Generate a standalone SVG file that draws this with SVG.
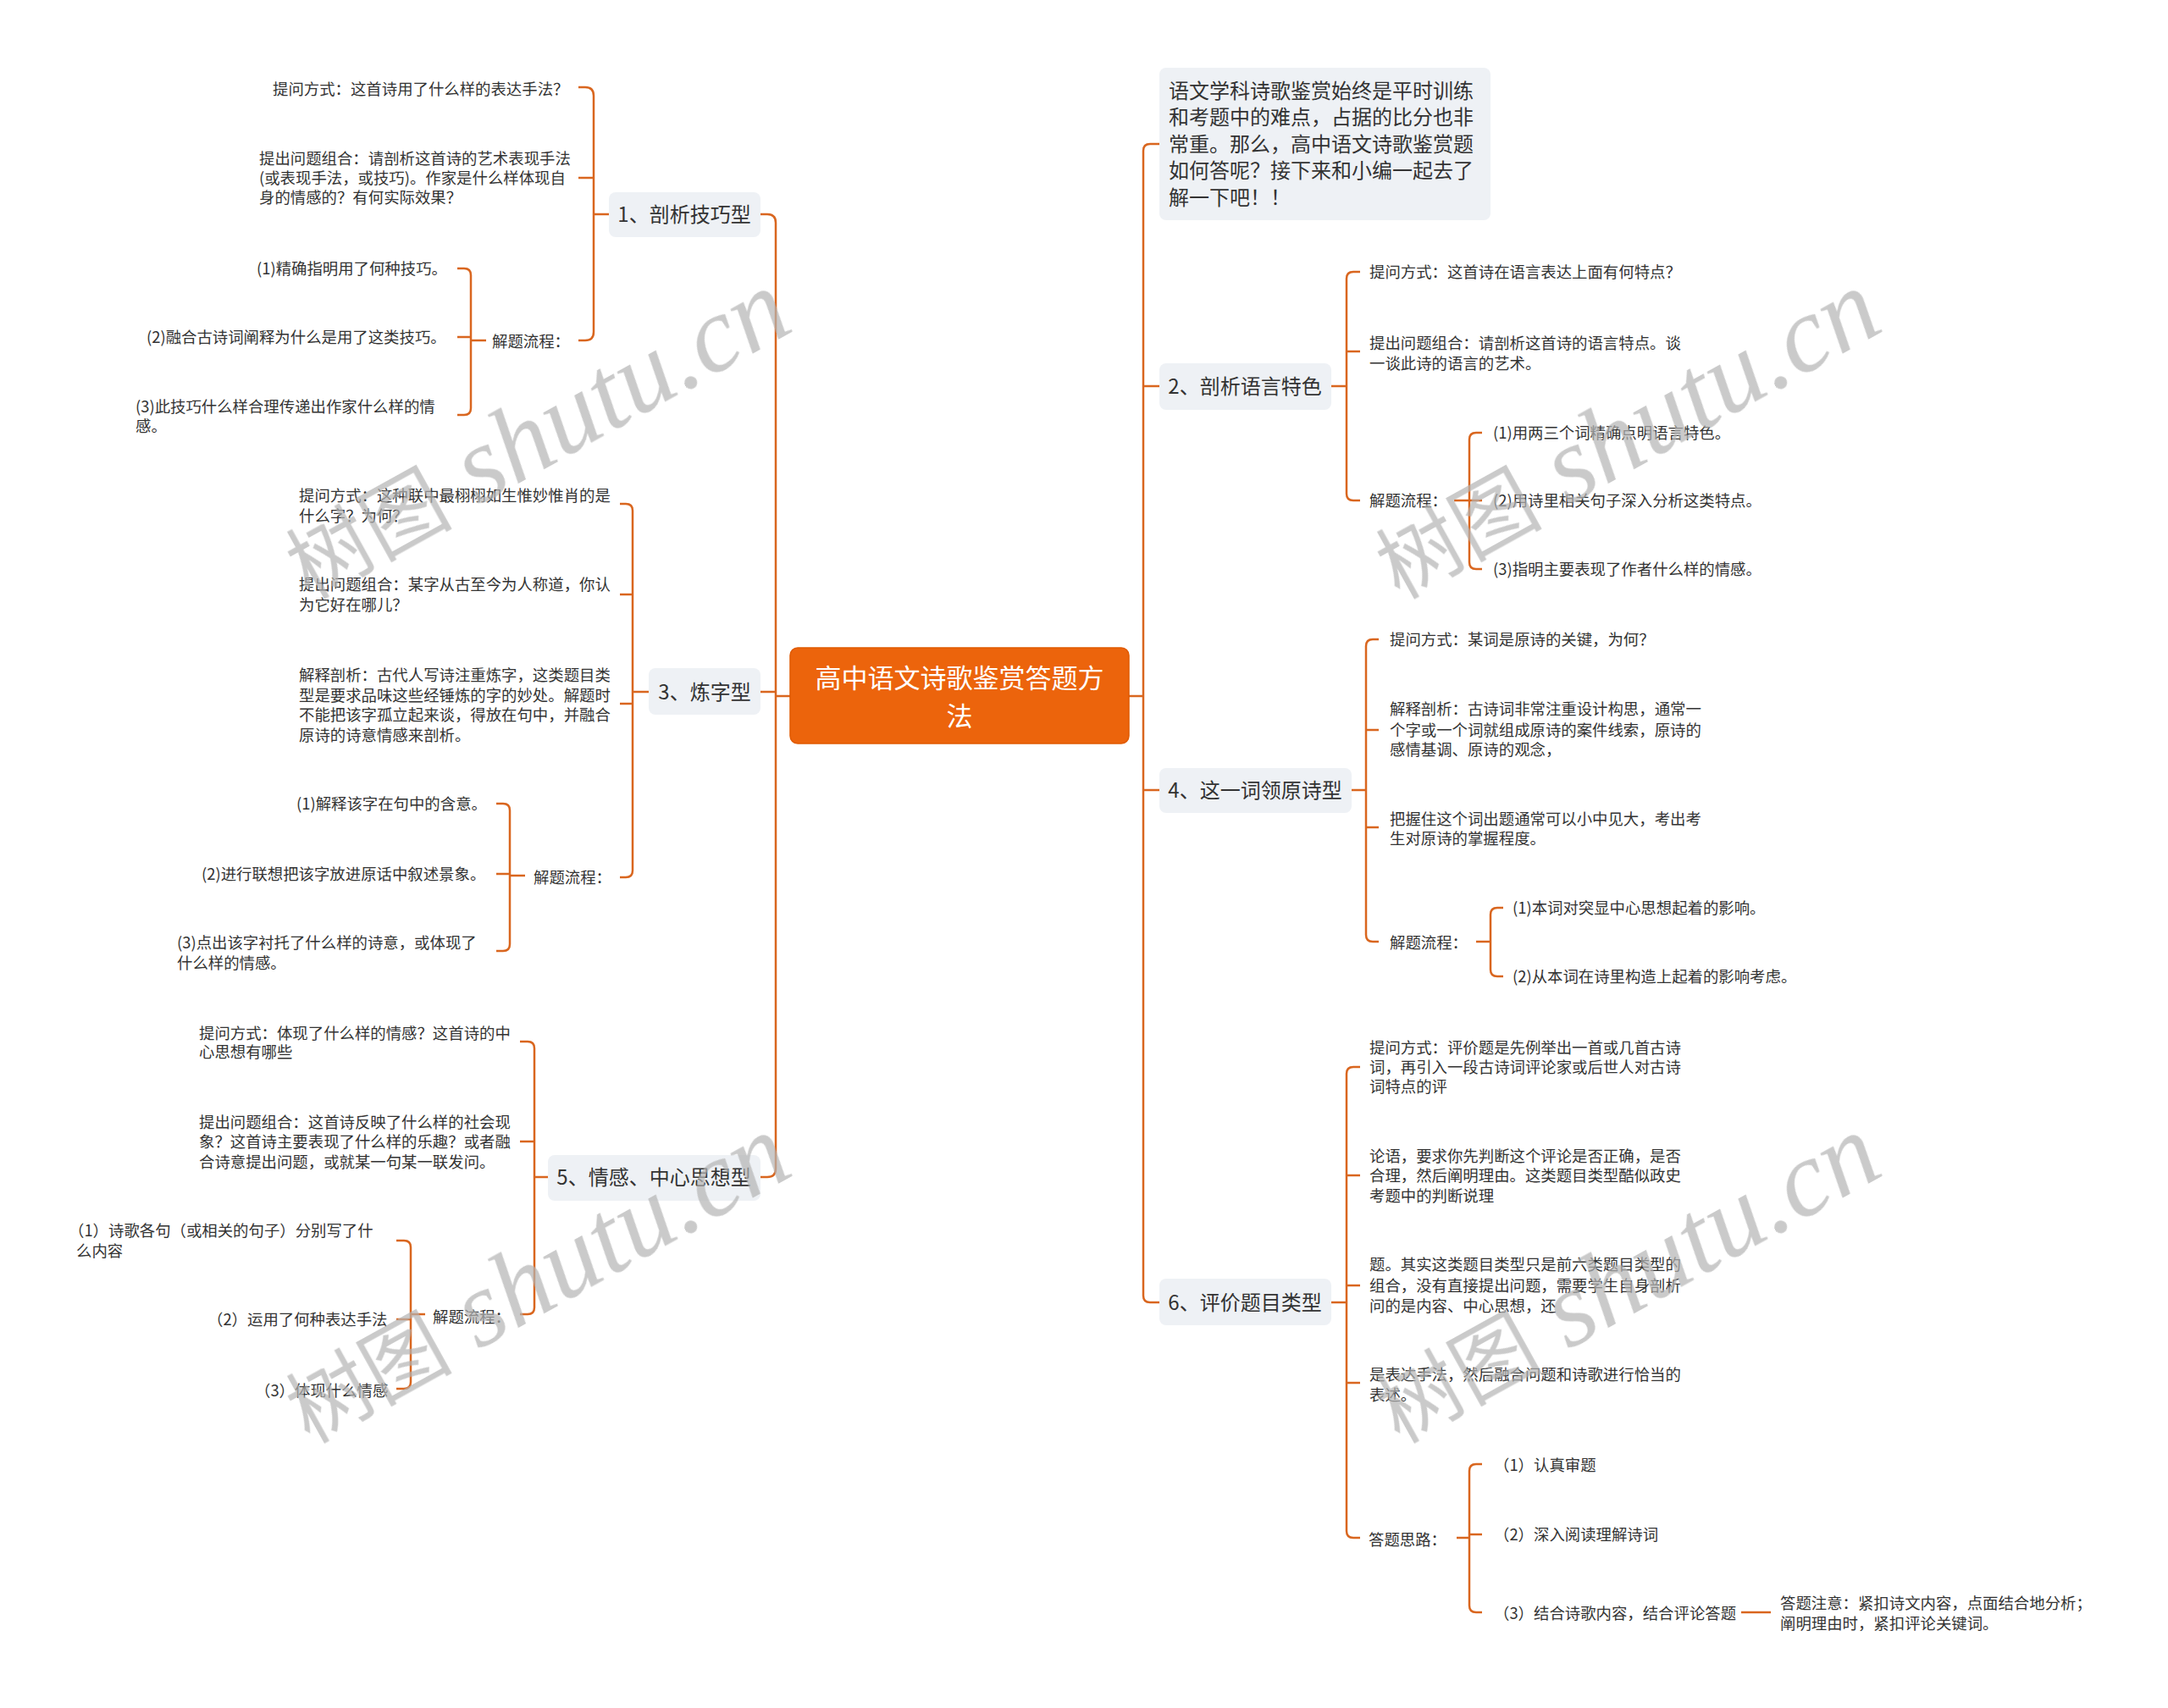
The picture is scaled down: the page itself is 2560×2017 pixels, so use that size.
<svg xmlns="http://www.w3.org/2000/svg" width="2560" height="2017" viewBox="0 0 2560 2017">
<style>
text{font-family:"Noto Sans CJK SC","Noto Sans",sans-serif;fill:#333333}
.lf{font-size:18.4px}
.bt{font-size:24px;text-anchor:middle}
.it{font-size:24px}
.ct{font-size:31px;fill:#ffffff;text-anchor:middle}
.box{fill:#EEF1F5}
.ln{fill:none;stroke:#D9661F;stroke-width:2.5}
.wmc{font-family:"Noto Sans CJK SC",sans-serif;font-size:98px;fill:#b4b4b4}
.wml{font-family:"Liberation Serif",serif;font-style:italic;font-size:128px;fill:#b4b4b4}
</style>
<rect width="2560" height="2017" fill="#ffffff"/>
<g id="connectors">
<path class="ln" d="M898,253 H906 Q916,253 916,263 V1380 Q916,1390 906,1390 H898 M898,817 H916 M916,822 H933"/>
<path class="ln" d="M683,103 H691 Q701,103 701,113 V392 Q701,402 691,402 H683 M683,210 H701 M701,253 H719"/>
<path class="ln" d="M540,317 H548 Q556,317 556,325 V482 Q556,490 548,490 H540 M540,398 H556 M556,402 H574"/>
<path class="ln" d="M732,595 H739 Q747,595 747,603 V1028 Q747,1036 739,1036 H732 M732,702 H747 M732,831 H747 M747,817 H766"/>
<path class="ln" d="M586,949 H594 Q602,949 602,957 V1115 Q602,1123 594,1123 H586 M586,1032 H602 M602,1034 H620"/>
<path class="ln" d="M614,1230 H623 Q631,1230 631,1238 V1544 Q631,1552 623,1552 H614 M614,1348 H631 M631,1390 H647"/>
<path class="ln" d="M468,1465 H477 Q485,1465 485,1473 V1632 Q485,1640 477,1640 H468 M468,1558 H485 M485,1552 H502"/>
<path class="ln" d="M1369,170 H1358 Q1350,170 1350,178 V1530 Q1350,1538 1358,1538 H1369 M1350,456 H1369 M1350,933 H1369 M1333,822 H1350"/>
<path class="ln" d="M1606,321 H1598 Q1590,321 1590,329 V583 Q1590,591 1598,591 H1606 M1590,415 H1606 M1572,456 H1590"/>
<path class="ln" d="M1750,511 H1743 Q1735,511 1735,519 V664 Q1735,672 1743,672 H1750 M1735,591 H1750 M1717,591 H1735"/>
<path class="ln" d="M1628,755 H1621 Q1613,755 1613,763 V1104 Q1613,1112 1621,1112 H1628 M1613,862 H1628 M1613,977 H1628 M1596,933 H1613"/>
<path class="ln" d="M1775,1072 H1768 Q1760,1072 1760,1080 V1145 Q1760,1153 1768,1153 H1775 M1743,1112 H1760"/>
<path class="ln" d="M1606,1260 H1598 Q1590,1260 1590,1268 V1808 Q1590,1816 1598,1816 H1606 M1590,1388 H1606 M1590,1518 H1606 M1590,1633 H1606 M1572,1538 H1590"/>
<path class="ln" d="M1750,1729 H1743 Q1735,1729 1735,1737 V1896 Q1735,1904 1743,1904 H1750 M1735,1812 H1750 M1720,1816 H1735"/>
<path class="ln" d="M2056,1904 H2091"/>
</g>
<g id="center">
<rect x="933" y="765" width="400" height="113" rx="9" fill="#EC640C" stroke="#E05A00" stroke-width="1.5"/>
<text class="ct"><tspan x="1133" y="812">高中语文诗歌鉴赏答题方</tspan><tspan x="1133" y="857">法</tspan></text>
</g>
<g id="b1">
<rect class="box" x="719" y="227" width="179" height="53" rx="8"/>
<text class="bt" x="808" y="262">1、剖析技巧型</text>
</g>
<g id="b1-1"><text class="lf" x="322" y="112">提问方式：这首诗用了什么样的表达手法？</text></g>
<g id="b1-2"><text class="lf"><tspan x="306" y="194">提出问题组合：请剖析这首诗的艺术表现手法</tspan><tspan x="306" y="217">(或表现手法，或技巧)。作家是什么样体现自</tspan><tspan x="306" y="240">身的情感的？有何实际效果？</tspan></text></g>
<g id="b1-3"><text class="lf" x="581" y="410">解题流程：</text></g>
<g id="b1-3-1"><text class="lf" x="303" y="324">(1)精确指明用了何种技巧。</text></g>
<g id="b1-3-2"><text class="lf" x="173" y="405">(2)融合古诗词阐释为什么是用了这类技巧。</text></g>
<g id="b1-3-3"><text class="lf"><tspan x="160" y="487">(3)此技巧什么样合理传递出作家什么样的情</tspan><tspan x="160" y="510">感。</tspan></text></g>
<g id="b3">
<rect class="box" x="766" y="789" width="132" height="55" rx="8"/>
<text class="bt" x="832" y="826">3、炼字型</text>
</g>
<g id="b3-1"><text class="lf"><tspan x="353" y="592">提问方式：这种联中最栩栩如生惟妙惟肖的是</tspan><tspan x="353" y="616">什么字？为何？</tspan></text></g>
<g id="b3-2"><text class="lf"><tspan x="353" y="697">提出问题组合：某字从古至今为人称道，你认</tspan><tspan x="353" y="721">为它好在哪儿？</tspan></text></g>
<g id="b3-3"><text class="lf"><tspan x="353" y="804">解释剖析：古代人写诗注重炼字，这类题目类</tspan><tspan x="353" y="828">型是要求品味这些经锤炼的字的妙处。解题时</tspan><tspan x="353" y="851">不能把该字孤立起来谈，得放在句中，并融合</tspan><tspan x="353" y="875">原诗的诗意情感来剖析。</tspan></text></g>
<g id="b3-4"><text class="lf" x="630" y="1043">解题流程：</text></g>
<g id="b3-4-1"><text class="lf" x="350" y="956">(1)解释该字在句中的含意。</text></g>
<g id="b3-4-2"><text class="lf" x="238" y="1039">(2)进行联想把该字放进原话中叙述景象。</text></g>
<g id="b3-4-3"><text class="lf"><tspan x="209" y="1120">(3)点出该字衬托了什么样的诗意，或体现了</tspan><tspan x="209" y="1144">什么样的情感。</tspan></text></g>
<g id="b5">
<rect class="box" x="647" y="1364" width="251" height="54" rx="8"/>
<text class="bt" x="772" y="1399">5、情感、中心思想型</text>
</g>
<g id="b5-1"><text class="lf"><tspan x="235" y="1227">提问方式：体现了什么样的情感？这首诗的中</tspan><tspan x="235" y="1249">心思想有哪些</tspan></text></g>
<g id="b5-2"><text class="lf"><tspan x="235" y="1332">提出问题组合：这首诗反映了什么样的社会现</tspan><tspan x="235" y="1355">象？这首诗主要表现了什么样的乐趣？或者融</tspan><tspan x="235" y="1379">合诗意提出问题，或就某一句某一联发问。</tspan></text></g>
<g id="b5-3"><text class="lf" x="511" y="1562">解题流程：</text></g>
<g id="b5-3-1"><text class="lf"><tspan x="81" y="1460">（1）诗歌各句（或相关的句子）分别写了什</tspan><tspan x="90" y="1484">么内容</tspan></text></g>
<g id="b5-3-2"><text class="lf" x="245" y="1565">（2）运用了何种表达手法</text></g>
<g id="b5-3-3"><text class="lf" x="301" y="1649">（3）体现什么情感</text></g>
<g id="intro">
<rect class="box" x="1369" y="80" width="391" height="180" rx="8"/>
<text class="it"><tspan x="1380" y="116">语文学科诗歌鉴赏始终是平时训练</tspan><tspan x="1380" y="147">和考题中的难点，占据的比分也非</tspan><tspan x="1380" y="179">常重。那么，高中语文诗歌鉴赏题</tspan><tspan x="1380" y="210">如何答呢？接下来和小编一起去了</tspan><tspan x="1380" y="242">解一下吧！！</tspan></text>
</g>
<g id="b2">
<rect class="box" x="1369" y="429" width="203" height="55" rx="8"/>
<text class="bt" x="1470" y="465">2、剖析语言特色</text>
</g>
<g id="b2-1"><text class="lf" x="1617" y="328">提问方式：这首诗在语言表达上面有何特点？</text></g>
<g id="b2-2"><text class="lf"><tspan x="1617" y="412">提出问题组合：请剖析这首诗的语言特点。谈</tspan><tspan x="1617" y="436">一谈此诗的语言的艺术。</tspan></text></g>
<g id="b2-3"><text class="lf" x="1617" y="598">解题流程：</text></g>
<g id="b2-3-1"><text class="lf" x="1763" y="518">(1)用两三个词精确点明语言特色。</text></g>
<g id="b2-3-2"><text class="lf" x="1763" y="598">(2)用诗里相关句子深入分析这类特点。</text></g>
<g id="b2-3-3"><text class="lf" x="1763" y="679">(3)指明主要表现了作者什么样的情感。</text></g>
<g id="b4">
<rect class="box" x="1369" y="907" width="227" height="53" rx="8"/>
<text class="bt" x="1482" y="942">4、这一词领原诗型</text>
</g>
<g id="b4-1"><text class="lf" x="1641" y="762">提问方式：某词是原诗的关键，为何？</text></g>
<g id="b4-2"><text class="lf"><tspan x="1641" y="844">解释剖析：古诗词非常注重设计构思，通常一</tspan><tspan x="1641" y="869">个字或一个词就组成原诗的案件线索，原诗的</tspan><tspan x="1641" y="892">感情基调、原诗的观念，</tspan></text></g>
<g id="b4-3"><text class="lf"><tspan x="1641" y="974">把握住这个词出题通常可以小中见大，考出考</tspan><tspan x="1641" y="997">生对原诗的掌握程度。</tspan></text></g>
<g id="b4-4"><text class="lf" x="1641" y="1120">解题流程：</text></g>
<g id="b4-4-1"><text class="lf" x="1786" y="1079">(1)本词对突显中心思想起着的影响。</text></g>
<g id="b4-4-2"><text class="lf" x="1786" y="1160">(2)从本词在诗里构造上起着的影响考虑。</text></g>
<g id="b6">
<rect class="box" x="1369" y="1510" width="203" height="55" rx="8"/>
<text class="bt" x="1470" y="1547">6、评价题目类型</text>
</g>
<g id="b6-1"><text class="lf"><tspan x="1617" y="1244">提问方式：评价题是先例举出一首或几首古诗</tspan><tspan x="1617" y="1267">词，再引入一段古诗词评论家或后世人对古诗</tspan><tspan x="1617" y="1290">词特点的评</tspan></text></g>
<g id="b6-2"><text class="lf"><tspan x="1617" y="1372">论语，要求你先判断这个评论是否正确，是否</tspan><tspan x="1617" y="1395">合理，然后阐明理由。这类题目类型酷似政史</tspan><tspan x="1617" y="1419">考题中的判断说理</tspan></text></g>
<g id="b6-3"><text class="lf"><tspan x="1617" y="1500">题。其实这类题目类型只是前六类题目类型的</tspan><tspan x="1617" y="1525">组合，没有直接提出问题，需要学生自身剖析</tspan><tspan x="1617" y="1549">问的是内容、中心思想，还</tspan></text></g>
<g id="b6-4"><text class="lf"><tspan x="1617" y="1630">是表达手法，然后融合问题和诗歌进行恰当的</tspan><tspan x="1617" y="1654">表述。</tspan></text></g>
<g id="b6-5"><text class="lf" x="1616" y="1825">答题思路：</text></g>
<g id="b6-5-1"><text class="lf" x="1764" y="1737">（1）认真审题</text></g>
<g id="b6-5-2"><text class="lf" x="1764" y="1819">（2）深入阅读理解诗词</text></g>
<g id="b6-5-3"><text class="lf" x="1764" y="1912">（3）结合诗歌内容，结合评论答题</text></g>
<g id="b6-5-3-1"><text class="lf"><tspan x="2102" y="1900">答题注意：紧扣诗文内容，点面结合地分析；</tspan><tspan x="2102" y="1924">阐明理由时，紧扣评论关键词。</tspan></text></g>
<g id="watermarks" opacity="0.7">
<text transform="translate(365,708) rotate(-29)"><tspan class="wmc">树图</tspan><tspan class="wml"> shutu.cn</tspan></text>
<text transform="translate(1652,708) rotate(-29)"><tspan class="wmc">树图</tspan><tspan class="wml"> shutu.cn</tspan></text>
<text transform="translate(365,1705) rotate(-29)"><tspan class="wmc">树图</tspan><tspan class="wml"> shutu.cn</tspan></text>
<text transform="translate(1652,1705) rotate(-29)"><tspan class="wmc">树图</tspan><tspan class="wml"> shutu.cn</tspan></text>
</g>
</svg>
